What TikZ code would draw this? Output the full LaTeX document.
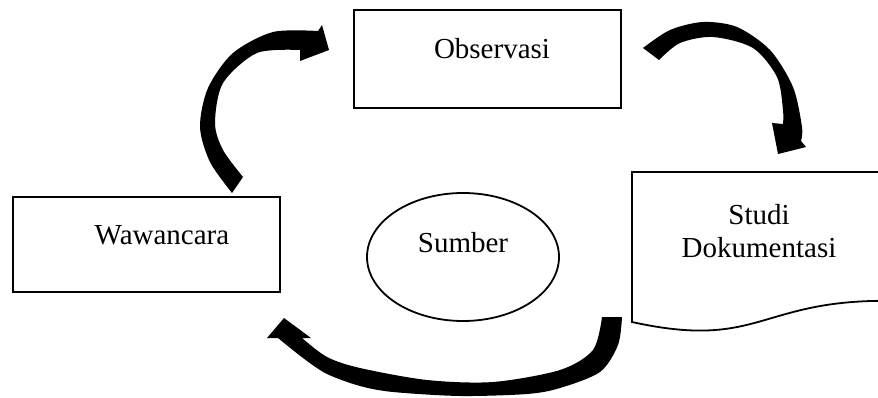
\documentclass[tikz,border=0pt]{standalone}
\usepackage{fontspec}
\setmainfont{Liberation Serif}
\usetikzlibrary{shapes.geometric}
\newcommand{\bodyfont}{\fontsize{29}{33}\selectfont}
\tikzset{
  boxnode/.style={draw, line width=2.2pt, rectangle, minimum width=267pt, inner sep=0pt, font=\bodyfont, text height=10pt, text depth=10pt},
  ovalnode/.style={ellipse, draw, line width=1.8pt, inner sep=0pt, font=\bodyfont},
  docline/.style={draw, line width=1.8pt, line join=miter},
  blockarrow/.style={fill=black}
}
\begin{document}
\begin{tikzpicture}[x=1pt,y=-1pt]
\useasboundingbox (0,0) rectangle (878,398);
\fill[white] (0,0) rectangle (878,398);

\node[boxnode, minimum height=98pt] (obs) at (487.5,59) {\hspace*{9pt}Observasi};
\node[boxnode, minimum height=95pt] (waw) at (146.5,244.5) {\hspace*{31pt}Wawancara};
\node[ovalnode, minimum width=192pt, minimum height=128pt, text height=5pt, text depth=15pt] (sum) at (463,257) {Sumber};
\node[anchor=base, inner sep=0pt, font=\bodyfont] (studi) at (759,225) {\begin{tabular}[t]{@{}c@{}}Studi\\Dokumentasi\end{tabular}};

% document outline
\coordinate (dtl) at (632,172);
\coordinate (dtr) at (885,172);
\coordinate (dbr) at (885,300.8);
\coordinate (dbl) at (632,322);
\draw[docline] (dtl) -- (dtr) -- (dbr) .. controls (758.5,300.8) and (758.5,349.9) .. (dbl) -- cycle;

% left curved arrow (Wawancara -> Observasi)
\fill[blockarrow] plot[smooth] coordinates {(232,193) (210,162) (200,127) (208,88) (233,53) (273,32) (318,31)}
  -- (322,25) -- (329,50) -- (300,61) -- (300,50)
  -- plot[smooth] coordinates {(300,50) (257,53) (223,83) (215,123) (223,150) (243,177)} -- cycle;

% right curved arrow (Observasi -> Studi Dokumentasi)
\fill[blockarrow] plot[smooth] coordinates {(643,48) (670,30) (703,22) (737,27) (770,50) (793,87) (802,127) (801,141)}
  -- (806,147) -- (778,154) -- (772,123) -- (783,124)
  -- plot[smooth] coordinates {(783,124) (783,110) (777,77) (753,48) (713,37) (680,43) (659,60)} -- cycle;

% bottom curved arrow (Studi Dokumentasi -> Wawancara)
\fill[blockarrow] plot[smooth] coordinates {(622,317) (618,345) (600,372) (560,388) (527,394) (460,396) (393,392) (360,386) (327,374) (303,358) (278,338)}
  -- (267,338) -- (284,318) -- (311,338) -- (302,338)
  -- plot[smooth] coordinates {(302,338) (327,357) (360,368) (427,380) (493,382) (560,370) (593,350) (602,317)} -- cycle;
\end{tikzpicture}
\end{document}
